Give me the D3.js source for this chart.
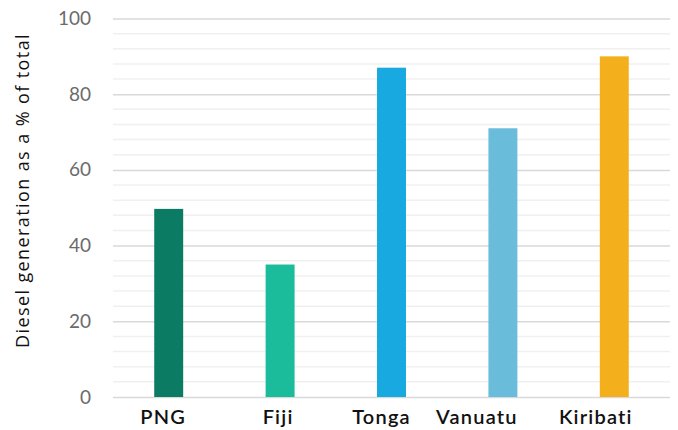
<!DOCTYPE html>
<html>
<head>
<meta charset="utf-8">
<script src="https://cdn.jsdelivr.net/npm/d3@7"></script>
<style>
  html, body { margin: 0; padding: 0; background: #fff; }
  svg { display: block; }
</style>
</head>
<body>
<svg id="chart" width="678" height="430"></svg>
<script>
// Diesel share of electricity generation by country
const countries = ["PNG", "Fiji", "Tonga", "Vanuatu", "Kiribati"];
const dieselShare = [49.7, 35, 87, 71, 90];
const barColors = ["#0b7b63", "#1abc9c", "#17a9df", "#6abcdb", "#f4b01c"];
const yTicks = [0, 20, 40, 60, 80, 100];
const minorStep = 4;
const yTitle = "Diesel generation as a % of total";
// hand-placed horizontal nudges for the country labels (px)
const labelNudge = [-5.5, -2, -10, -26, -18.5];

const svg = d3.select("#chart");
const plotLeft = 113, plotRight = 670, plotTop = 18.5, plotBottom = 397;

const x = d3.scaleBand()
  .domain(countries)
  .range([plotLeft, plotRight])
  .paddingInner(0.74)
  .paddingOuter(0.37);

const y = d3.scaleLinear().domain([0, 100]).range([plotBottom, plotTop]);

// minor gridlines
const minorTicks = d3.range(0, 100 + 0.001, minorStep).filter(v => v % 20 !== 0);
svg.append("g")
  .selectAll("line")
  .data(minorTicks)
  .join("line")
  .attr("x1", plotLeft).attr("x2", plotRight)
  .attr("y1", d => y(d)).attr("y2", d => y(d))
  .attr("stroke", "#f0f0f0")
  .attr("stroke-width", 1.5);

// major gridlines + tick labels
const yAxis = d3.axisLeft(y)
  .tickValues(yTicks)
  .tickSize(-(plotRight - plotLeft))
  .tickPadding(22)
  .tickFormat(d3.format("d"));

const yG = svg.append("g")
  .attr("transform", `translate(${plotLeft},0)`)
  .call(yAxis);
yG.select(".domain").remove();
yG.selectAll(".tick line")
  .attr("stroke", "#d9d9d9")
  .attr("stroke-width", 1.5);
yG.selectAll(".tick text")
  .attr("fill", "#6b6b6b")
  .style("font-family", "Lato, sans-serif")
  .style("font-size", "19px");

// bars
svg.append("g")
  .selectAll("rect")
  .data(countries.map((c, i) => ({ c, v: dieselShare[i], color: barColors[i] })))
  .join("rect")
  .attr("x", d => x(d.c))
  .attr("width", x.bandwidth())
  .attr("y", d => y(d.v))
  .attr("height", d => y(0) - y(d.v))
  .attr("fill", d => d.color);

// category axis
const xAxis = d3.axisBottom(x).tickSize(0).tickPadding(13);
const xG = svg.append("g")
  .attr("transform", `translate(0,${plotBottom})`)
  .call(xAxis);
xG.select(".domain").remove();
xG.selectAll(".tick text")
  .attr("dx", (d, i) => labelNudge[i])
  .attr("fill", "#111")
  .style("font-family", "Lato, sans-serif")
  .style("font-weight", "600")
  .style("font-size", "20px")
  .style("letter-spacing", "1.2px");

// y-axis title
svg.append("text")
  .attr("transform", `translate(29,${(33 + 348) / 2}) rotate(-90)`)
  .attr("text-anchor", "middle")
  .attr("fill", "#111")
  .style("font-family", "'Open Sans', sans-serif")
  .style("font-size", "18px")
  .style("letter-spacing", "1.4px")
  .text(yTitle);
</script>
</body>
</html>
